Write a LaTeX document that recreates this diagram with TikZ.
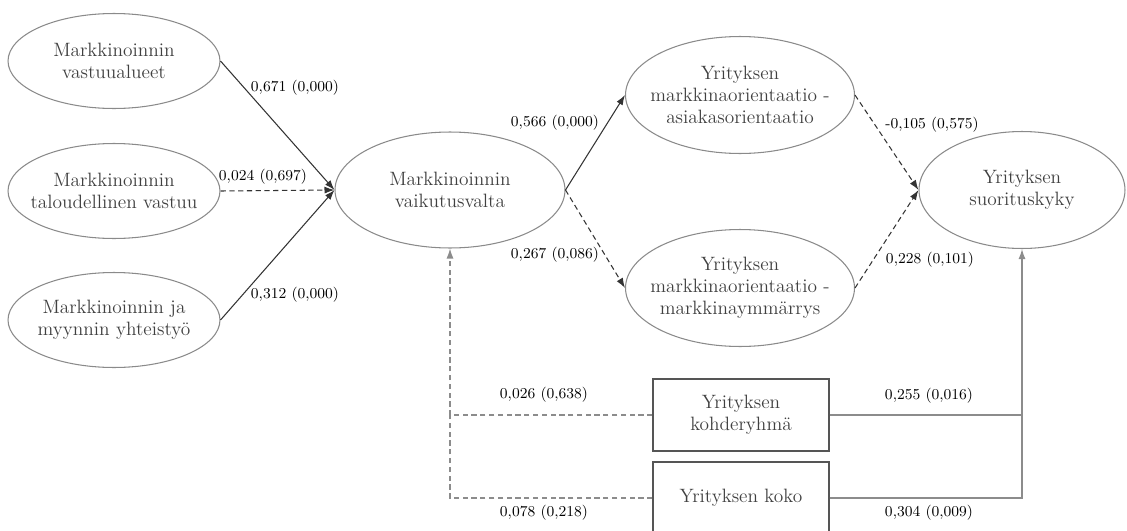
\documentclass[tikz,border=0pt]{standalone}
\usetikzlibrary{arrows.meta,shapes.geometric}
\definecolor{rimgray}{HTML}{8A8A8A}
\definecolor{txtgray}{HTML}{404040}
\definecolor{linkgray}{HTML}{333333}
\definecolor{ctrlgray}{HTML}{8C8C8C}
\definecolor{boxgray}{HTML}{555555}
\tikzset{
  construct/.style={ellipse, draw=rimgray, line width=0.6pt, text=txtgray,
    align=center, inner xsep=-6mm, font=\fontsize{11}{12.5}\selectfont},
  ctrlbox/.style={rectangle, draw=boxgray, line width=0.7pt, text=txtgray,
    align=center, minimum width=3.52cm, minimum height=1.44cm,
    font=\fontsize{11}{12.5}\selectfont},
  coef/.style={font=\fontsize{8.6}{10}\selectfont, inner sep=0pt},
  link/.style={draw=linkgray, line width=0.6pt, -{Latex[length=2mm,width=1.4mm]}},
  weak/.style={dash pattern=on 3pt off 2pt},
  ctrllink/.style={draw=ctrlgray, line width=0.7pt, -{Latex[length=2mm,width=1.4mm]}},
}
\begin{document}
\begin{tikzpicture}[x=0.02cm, y=-0.02cm]
  \useasboundingbox (0,0) rectangle (1127,531);
  % constructs
  \node[construct, minimum width=4.24cm, minimum height=1.9cm] (vast) at (114,61) {Markkinoinnin\\vastuualueet};
  \node[construct, minimum width=4.24cm, minimum height=1.9cm] (talo) at (114,191) {Markkinoinnin\\taloudellinen vastuu};
  \node[construct, minimum width=4.24cm, minimum height=1.9cm] (yht) at (114,320) {Markkinoinnin ja\\myynnin yhteistyö};
  \node[construct, minimum width=4.6cm, minimum height=2.32cm] (vaik) at (450,190) {Markkinoinnin\\vaikutusvalta};
  \node[construct, minimum width=4.58cm, minimum height=2.34cm] (asia) at (740,95) {Yrityksen\\markkinaorientaatio -\\asiakasorientaatio};
  \node[construct, minimum width=4.58cm, minimum height=2.34cm] (ymm) at (740,288) {Yrityksen\\markkinaorientaatio -\\markkinaymmärrys};
  \node[construct, minimum width=4.12cm, minimum height=2.34cm] (suor) at (1022,190) {Yrityksen\\suorituskyky};
  % controls
  \node[ctrlbox] (kohde) at (741,415) {Yrityksen\\kohderyhmä};
  \node[ctrlbox] (koko) at (741,498) {Yrityksen koko};
  \coordinate (ljoin) at (vaik.south |- kohde.west);
  \coordinate (rjoin) at (suor.south |- kohde.east);

  \draw[link] (vast.east) to (vaik.west);
  \draw[link, weak] (talo.east) to (vaik.west);
  \draw[link] (yht.east) to (vaik.west);
  \draw[link] (vaik.east) to (asia.west);
  \draw[link, weak] (vaik.east) to (ymm.west);
  \draw[link, weak] (asia.east) to (suor.west);
  \draw[link, weak] (ymm.east) to (suor.west);

  \draw[ctrllink, weak] (kohde.west) -| (vaik.south);
  \draw[draw=ctrlgray, line width=0.7pt, weak] (koko.west) -| (ljoin);
  \draw[ctrllink] (kohde.east) -| (suor.south);
  \draw[draw=ctrlgray, line width=0.7pt] (koko.east) -| (rjoin);

  % coefficients
  \node[coef] (c1) at (295,88) {0,671 (0,000)};
  \node[coef] (c2) at (263,177) {0,024 (0,697)};
  \node[coef] (c3) at (295,295) {0,312 (0,000)};
  \node[coef] (c4) at (555,123) {0,566 (0,000)};
  \node[coef] (c5) at (555,255) {0,267 (0,086)};
  \node[coef] (c6) at (932,125) {-0,105 (0,575)};
  \node[coef] (c7) at (930,260) {0,228 (0,101)};
  \node[coef] (c8) at (544,395) {0,026 (0,638)};
  \node[coef] (c9) at (544,513) {0,078 (0,218)};
  \node[coef] (c10) at (929,396) {0,255 (0,016)};
  \node[coef] (c11) at (929,513) {0,304 (0,009)};
\end{tikzpicture}
\end{document}
